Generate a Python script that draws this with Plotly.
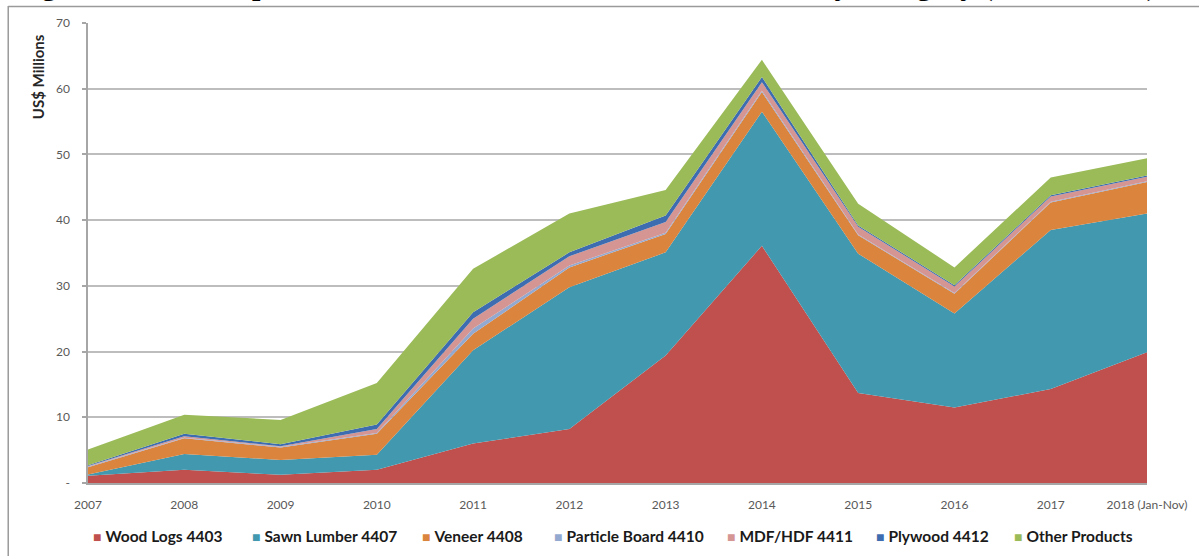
import plotly.graph_objects as go

# Imports of forest products from the United States, US$ millions
years = ["2007", "2008", "2009", "2010", "2011", "2012", "2013", "2014",
         "2015", "2016", "2017", "2018 (Jan-Nov)"]
wood_logs = [1.1, 2.0, 1.25, 2.0, 6.0, 8.2, 19.4, 36.1, 13.7, 11.5, 14.3, 19.9]
sawn_lumber = [0.2, 2.4, 2.25, 2.3, 14.2, 21.6, 15.7, 20.4, 21.2, 14.3, 24.2, 21.1]
veneer = [1.1, 2.4, 1.9, 3.2, 2.5, 3.0, 2.8, 3.0, 2.8, 3.0, 4.2, 4.8]
particle_board = [0.1, 0.1, 0.1, 0.1, 0.8, 0.3, 0.2, 0.2, 0.1, 0.1, 0.1, 0.1]
mdf_hdf = [0.1, 0.2, 0.1, 0.6, 1.5, 1.4, 1.6, 1.3, 1.2, 1.0, 0.8, 0.7]
plywood = [0.1, 0.4, 0.3, 0.7, 1.0, 0.6, 1.0, 0.8, 0.2, 0.2, 0.2, 0.2]
other_products = [2.4, 2.9, 3.7, 6.3, 6.6, 5.9, 3.9, 2.6, 3.3, 2.7, 2.7, 2.6]

series_names = ["Wood Logs 4403", "Sawn Lumber 4407", "Veneer 4408",
                "Particle Board 4410", "MDF/HDF 4411", "Plywood 4412",
                "Other Products"]
series_values = [wood_logs, sawn_lumber, veneer, particle_board, mdf_hdf,
                 plywood, other_products]
series_colors = ["#C0504D", "#4198AF", "#DB843D", "#93A9CF", "#D59593",
                 "#3D6DB0", "#9BBB59"]

y_ticks = [0, 10, 20, 30, 40, 50, 60, 70]
y_ticktext = ["-", "10", "20", "30", "40", "50", "60", "70"]

# page geometry (pixels)
W, H = 1199, 556
L, R, T, B = 88, 49, 23, 73
plot_w = W - L - R
plot_h = H - T - B


def px_x(px):
    return (px - L) / plot_w


def px_y(py):
    return (H - B - py) / plot_h


fig = go.Figure()
for name, vals, col in zip(series_names, series_values, series_colors):
    fig.add_trace(go.Scatter(
        x=years, y=vals, name=name, mode="none",
        stackgroup="one", fillcolor=col, showlegend=False,
    ))

annotations = []

# axis title, placed near the top of the value axis
annotations.append(dict(
    text="<b>US$ Millions</b>", textangle=-90,
    xref="paper", yref="paper", x=px_x(38), y=px_y(77),
    xanchor="center", yanchor="middle", showarrow=False,
    font=dict(family="Lato, Carlito, Arial", size=15, color="#262626"),
))

# legend row
legend_x = [92, 251, 422, 554, 728, 877, 1016]
for name, col, lx in zip(series_names, series_colors, legend_x):
    annotations.append(dict(
        text=f'<span style="color:{col};font-size:14px">■</span> <b>{name}</b>',
        xref="paper", yref="paper", x=px_x(lx - 1), y=px_y(536),
        xanchor="left", yanchor="middle", showarrow=False,
        font=dict(family="Lato, Carlito, Arial", size=15.5, color="#1a1a1a"),
    ))

# figure caption along the top edge
annotations.append(dict(
    text="<b>Figure 3: Main Imports of Forest Products from United States by Category (US$ Million)</b>",
    xref="paper", yref="paper", x=px_x(1162), y=px_y(3.8),
    xanchor="right", yanchor="bottom", showarrow=False,
    font=dict(family="Liberation Serif, Times New Roman, serif", size=30, color="#000000"),
))

shapes = [
    # outer frame: left and top edges
    dict(type="line", xref="paper", yref="paper",
         x0=px_x(8), x1=px_x(8), y0=px_y(6), y1=px_y(560),
         line=dict(color="#9a9a9a", width=1.5)),
    dict(type="line", xref="paper", yref="paper",
         x0=px_x(8), x1=px_x(1205), y0=px_y(6.5), y1=px_y(6.5),
         line=dict(color="#9a9a9a", width=1.5)),
]

fig.update_layout(
    width=W, height=H,
    margin=dict(l=L, r=R, t=T, b=B),
    paper_bgcolor="white", plot_bgcolor="white",
    showlegend=False,
    annotations=annotations,
    shapes=shapes,
    font=dict(family="Lato, Carlito, Arial", color="#595959"),
    xaxis=dict(
        type="category", range=[0, len(years) - 1],
        tickmode="array", tickvals=years, ticktext=years,
        showgrid=False, zeroline=False,
        showline=True, linecolor="#a6a6a6", linewidth=1.5,
        ticks="", ticklabelstandoff=10,
        tickfont=dict(size=12, color="#595959"),
    ),
    yaxis=dict(
        range=[0, 70], tickmode="array", tickvals=y_ticks, ticktext=y_ticktext,
        showgrid=True, gridcolor="#bdbdbd", gridwidth=1.5,
        zeroline=False, showline=True, linecolor="#a6a6a6", linewidth=1.5,
        ticks="outside", ticklen=4, tickcolor="#a6a6a6", tickwidth=1.5,
        ticklabelstandoff=10,
        tickfont=dict(size=12, color="#595959"),
    ),
)

fig.write_html("out.html")
